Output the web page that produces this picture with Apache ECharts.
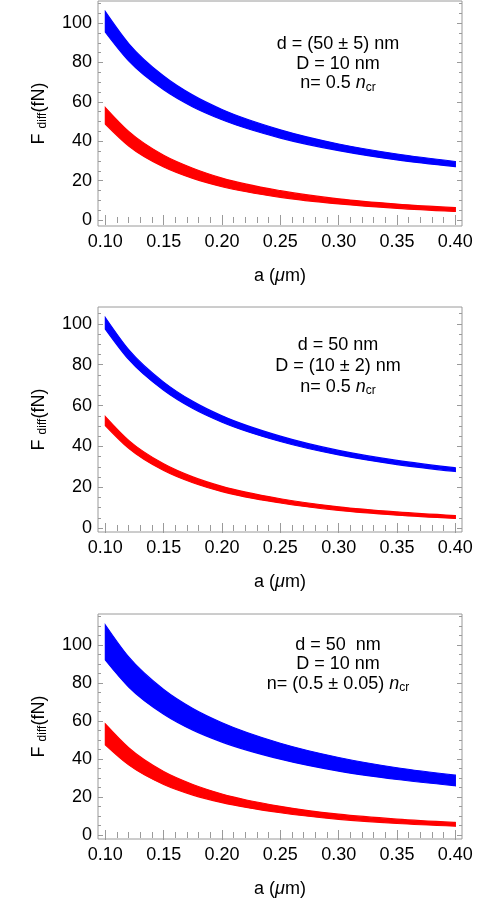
<!DOCTYPE html>
<html>
<head>
<meta charset="utf-8">
<script src="https://cdn.jsdelivr.net/npm/echarts@6/dist/echarts.min.js"></script>
<style>
  html, body { margin: 0; padding: 0; background: #fff; }
  #chart { width: 503px; height: 900px; }
</style>
</head>
<body>
<div id="chart"></div>
<script>
const aValues = [0.10, 0.12, 0.15, 0.175, 0.20, 0.25, 0.30, 0.35, 0.40];

// panel 1: d = (50 ± 5) nm
const blue1Hi = [105.8, 89.6, 73.1, 63.4, 56.1, 45.8, 38.6, 33.5, 29.7];
const blue1Lo = [95.4, 80.8, 66.1, 57.4, 50.9, 41.6, 35.2, 30.5, 27.1];
const red1Hi = [57.1, 45.0, 32.9, 26.3, 21.3, 14.9, 10.75, 8.1, 6.25];
const red1Lo = [48.7, 37.6, 26.9, 21.1, 16.9, 11.5, 8.15, 5.9, 4.35];

// panel 2: D = (10 ± 2) nm
const blue2Hi = [103.1, 87.4, 71.5, 62.05, 54.95, 45.0, 38.0, 33.1, 29.5];
const blue2Lo = [97.5, 82.6, 67.5, 58.55, 51.85, 42.4, 35.8, 31.1, 27.7];
const red2Hi = [54.6, 42.95, 31.45, 25.05, 20.4, 14.35, 10.4, 7.9, 6.1];
const red2Lo = [50.2, 39.05, 28.15, 22.15, 17.8, 12.25, 8.6, 6.3, 4.7];

// panel 3: n = (0.5 ± 0.05) n_cr
const blue3Hi = [110.5, 93.7, 76.6, 66.6, 59.1, 48.3, 40.8, 35.4, 31.5];
const blue3Lo = [92.1, 77.9, 63.6, 55.2, 48.9, 39.9, 33.6, 29.2, 25.9];
const red3Hi = [58.4, 45.9, 33.4, 26.6, 21.6, 15.1, 10.95, 8.35, 6.6];
const red3Lo = [47.4, 36.9, 26.6, 21.0, 17.0, 11.7, 8.25, 6.05, 4.6];

// ticks
const xTicks = [0.10, 0.15, 0.20, 0.25, 0.30, 0.35, 0.40];
const xMinorTicks = [0.11, 0.12, 0.13, 0.14, 0.16, 0.17, 0.18, 0.19, 0.21, 0.22, 0.23, 0.24,
  0.26, 0.27, 0.28, 0.29, 0.31, 0.32, 0.33, 0.34, 0.36, 0.37, 0.38, 0.39];
const yTicks = [0, 20, 40, 60, 80, 100];
const yMinorTicks = [5, 10, 15, 25, 30, 35, 45, 50, 55, 65, 70, 75, 85, 90, 95, 105, 110, 115];

const notes1 = ['{n|d = (50 ± 5) nm}', '{n|D = 10 nm}', '{n|n= 0.5 }{i|n}{s|cr}'];
const notes2 = ['{n|d = 50 nm}', '{n|D = (10 ± 2) nm}', '{n|n= 0.5 }{i|n}{s|cr}'];
const notes3 = ['{n|d = 50  nm}', '{n|D = 10 nm}', '{n|n= (0.5 ± 0.05) }{i|n}{s|cr}'];

const FONT = '"Liberation Sans", Arial, sans-serif';
const FRAME = '#9a9a9a';
const BLUE = '#0000ff';
const RED = '#ff0000';
const X_MIN = 0.0937;
const X_MAX = 0.4057;

const panels = [
  { top: 1, yMin: -3.05, yMax: 111.2, blue: [blue1Lo, blue1Hi], red: [red1Lo, red1Hi], notes: notes1, noteY: 44, noteGap: 19.7 },
  { top: 307, yMin: -1.96, yMax: 108.3, blue: [blue2Lo, blue2Hi], red: [red2Lo, red2Hi], notes: notes2, noteY: 345, noteGap: 21 },
  { top: 614, yMin: -2.1, yMax: 116.3, blue: [blue3Lo, blue3Hi], red: [red3Lo, red3Hi], notes: notes3, noteY: 645, noteGap: 19.3 },
];

const textRich = {
  n: { fontSize: 18, fontFamily: FONT, color: '#000' },
  i: { fontSize: 18, fontFamily: FONT, color: '#000', fontStyle: 'italic' },
  s: { fontSize: 12, fontFamily: FONT, color: '#000', padding: [8, 0, 0, 0] },
};

function tickAxis(kind, g, p, position, values, len, withLabels) {
  const ax = {
    gridIndex: g,
    type: 'value',
    position: position,
    offset: 0,
    min: kind === 'x' ? X_MIN : p.yMin,
    max: kind === 'x' ? X_MAX : p.yMax,
    axisLine: { show: false },
    splitLine: { show: false },
    axisTick: { inside: true, length: len, customValues: values, lineStyle: { color: FRAME, width: 1 } },
    axisLabel: { show: false },
  };
  if (withLabels) {
    ax.axisLabel = {
      show: true,
      customValues: values,
      color: '#000',
      fontSize: 18,
      fontFamily: FONT,
      margin: kind === 'x' ? 7 : 6,
      formatter: kind === 'x' ? (v) => v.toFixed(2) : (v) => String(v),
    };
    ax.nameLocation = 'middle';
    ax.nameTextStyle = { color: '#000', fontSize: 18, fontFamily: FONT, rich: textRich };
    if (kind === 'x') {
      ax.name = '{n|a (}{i|μ}{n|m)}';
      ax.nameGap = 41;
    } else {
      ax.name = '{n|F }{s|diff}{n|(fN)}';
      ax.nameGap = 49;
      ax.nameRotate = 90;
    }
  }
  return ax;
}

// monotone cubic (like d3.curveMonotoneX) -> bezier control points, in pixel space
function tangents(pts) {
  const n = pts.length;
  const t = new Array(n);
  for (let i = 1; i < n - 1; i++) {
    const h0 = pts[i][0] - pts[i - 1][0];
    const h1 = pts[i + 1][0] - pts[i][0];
    const s0 = (pts[i][1] - pts[i - 1][1]) / h0;
    const s1 = (pts[i + 1][1] - pts[i][1]) / h1;
    const p = (s0 * h1 + s1 * h0) / (h0 + h1);
    t[i] = (Math.sign(s0) + Math.sign(s1)) * Math.min(Math.abs(s0), Math.abs(s1), 0.5 * Math.abs(p)) || 0;
  }
  const hA = pts[1][0] - pts[0][0];
  t[0] = (3 * (pts[1][1] - pts[0][1]) / hA - t[1]) / 2;
  const hB = pts[n - 1][0] - pts[n - 2][0];
  t[n - 1] = (3 * (pts[n - 1][1] - pts[n - 2][1]) / hB - t[n - 2]) / 2;
  return t;
}

function segments(pts) {
  const t = tangents(pts);
  const segs = [];
  for (let i = 0; i < pts.length - 1; i++) {
    const dx = (pts[i + 1][0] - pts[i][0]) / 3;
    segs.push([
      [pts[i][0] + dx, pts[i][1] + t[i] * dx],
      [pts[i + 1][0] - dx, pts[i + 1][1] - t[i + 1] * dx],
    ]);
  }
  return segs;
}

function bandPath(top, bot) {
  const f = (p) => p[0].toFixed(2) + ' ' + p[1].toFixed(2);
  let d = 'M' + f(top[0]);
  segments(top).forEach((s, i) => { d += ' C' + f(s[0]) + ' ' + f(s[1]) + ' ' + f(top[i + 1]); });
  const last = bot.length - 1;
  d += ' L' + f(bot[last]);
  const bs = segments(bot);
  for (let i = bs.length - 1; i >= 0; i--) {
    d += ' C' + f(bs[i][1]) + ' ' + f(bs[i][0]) + ' ' + f(bot[i]);
  }
  return d + ' Z';
}

function band(g, lo, hi, color) {
  return {
    type: 'custom',
    xAxisIndex: g * 4,
    yAxisIndex: g * 4,
    silent: true,
    animation: false,
    data: [0],
    renderItem: function (params, api) {
      const top = aValues.map((a, i) => api.coord([a, hi[i]]));
      const bot = aValues.map((a, i) => api.coord([a, lo[i]]));
      return {
        type: 'path',
        shape: { pathData: bandPath(top, bot) },
        style: { fill: color, stroke: color, lineWidth: 1.2 },
      };
    },
  };
}

const grids = [];
const xAxes = [];
const yAxes = [];
const series = [];
const graphics = [];

panels.forEach((p, g) => {
  grids.push({
    left: 98, top: p.top, width: 364, height: 225,
    show: true, borderColor: FRAME, borderWidth: 1, backgroundColor: 'transparent',
    containLabel: false, outerBoundsMode: 'none',
  });
  xAxes.push(tickAxis('x', g, p, 'bottom', xTicks, 5, true));
  xAxes.push(tickAxis('x', g, p, 'bottom', xMinorTicks, 3, false));
  xAxes.push(tickAxis('x', g, p, 'top', xTicks, 5, false));
  xAxes.push(tickAxis('x', g, p, 'top', xMinorTicks, 3, false));
  yAxes.push(tickAxis('y', g, p, 'left', yTicks, 5, true));
  yAxes.push(tickAxis('y', g, p, 'left', yMinorTicks.filter(v => v < p.yMax), 3, false));
  yAxes.push(tickAxis('y', g, p, 'right', yTicks, 5, false));
  yAxes.push(tickAxis('y', g, p, 'right', yMinorTicks.filter(v => v < p.yMax), 3, false));

  series.push(band(g, p.blue[0], p.blue[1], BLUE));
  series.push(band(g, p.red[0], p.red[1], RED));

  p.notes.forEach((t, k) => {
    graphics.push({
      type: 'text',
      x: 338,
      y: p.noteY + k * p.noteGap,
      silent: true,
      style: {
        text: t,
        align: 'center',
        verticalAlign: 'middle',
        fill: '#000',
        font: '18px ' + FONT,
        rich: textRich,
      },
    });
  });
});

const chart = echarts.init(document.getElementById('chart'), null, { renderer: 'canvas' });
chart.setOption({
  animation: false,
  backgroundColor: '#fff',
  grid: grids,
  xAxis: xAxes,
  yAxis: yAxes,
  series: series,
  graphic: graphics,
});
</script>
</body>
</html>
